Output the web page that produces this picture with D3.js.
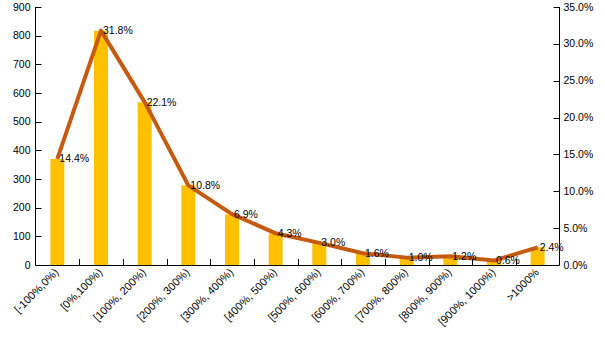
<!DOCTYPE html>
<html><head><meta charset="utf-8">
<script src="https://cdn.jsdelivr.net/npm/d3@7"></script>
<style>body{margin:0;background:#fff}svg{display:block}text{font-family:"Liberation Sans",Arial,sans-serif}</style>
</head><body><svg id="c" width="605" height="340"></svg>
<script>
const categories = ["[-100%,0%)","[0%,100%)","[100%, 200%)","[200%, 300%)","[300%, 400%)","[400%, 500%)","[500%, 600%)","[600%, 700%)","[700%, 800%)","[800%, 900%)","[900%, 1000%)",">1000%"];
const counts = [370,817,568,278,177,110,77,41,26,31,15,62];
const shares = [14.4,31.8,22.1,10.8,6.9,4.3,3.0,1.6,1.0,1.2,0.6,2.4];
const leftTicks = [0,100,200,300,400,500,600,700,800,900];
const rightTicks = [0,5,10,15,20,25,30,35];

const svg = d3.select("#c");
const L = 35.5, R = 559.5, T = 7, B = 265;
const x = d3.scaleBand().domain(categories).range([L, R]);
const yL = d3.scaleLinear().domain([0, 900]).range([B, T]);
const yR = d3.scaleLinear().domain([0, 35]).range([B, T]);

// bars
svg.append("g").selectAll("rect").data(counts).join("rect")
  .attr("x", (d,i) => x(categories[i]) + x.bandwidth()/2 - 7)
  .attr("width", 14)
  .attr("y", d => yL(d))
  .attr("height", d => B - yL(d))
  .attr("fill", "#FFC000");

// line
const line = d3.line().x((d,i) => x(categories[i]) + x.bandwidth()/2).y(d => yR(d));
svg.append("path").datum(shares).attr("d", line)
  .attr("fill","none").attr("stroke","#C55A11").attr("stroke-width",4).attr("stroke-linejoin","round");

// data labels
svg.append("g").selectAll("text").data(shares).join("text")
  .attr("x", (d,i) => x(categories[i]) + x.bandwidth()/2 + 2)
  .attr("y", d => yR(d) + 3.5)
  .attr("font-size", 10.5).attr("fill","#000")
  .text(d => d.toFixed(1) + "%");

// left axis
const gl = svg.append("g").attr("transform", `translate(${L},0)`);
gl.append("line").attr("x1",0).attr("x2",0).attr("y1",T).attr("y2",B).attr("stroke","#000");
leftTicks.forEach(t => {
  gl.append("line").attr("x1",0).attr("x2",6).attr("y1",Math.round(yL(t))+0.5).attr("y2",Math.round(yL(t))+0.5).attr("stroke","#000");
  gl.append("text").attr("x",-5).attr("y",yL(t)+3.5).attr("text-anchor","end").attr("font-size",10.5).text(t);
});
// right axis
const gr = svg.append("g").attr("transform", `translate(${R},0)`);
gr.append("line").attr("x1",0).attr("x2",0).attr("y1",T).attr("y2",B).attr("stroke","#000");
rightTicks.forEach(t => {
  gr.append("line").attr("x1",-6).attr("x2",0).attr("y1",Math.round(yR(t))+0.5).attr("y2",Math.round(yR(t))+0.5).attr("stroke","#000");
  gr.append("text").attr("x",4).attr("y",yR(t)+3.5).attr("font-size",10.5).text(t.toFixed(1)+"%");
});
// bottom axis
const gb = svg.append("g");
gb.append("line").attr("x1",L).attr("x2",R).attr("y1",B+0.5).attr("y2",B+0.5).attr("stroke","#000");
categories.forEach((c,i) => {
  const xe = Math.round(x(c) + x.bandwidth()) + 0.5;
  if (i < categories.length - 1) gb.append("line").attr("x1",xe).attr("x2",xe).attr("y1",B-6).attr("y2",B).attr("stroke","#000");
  const cx = x(c) + x.bandwidth()/2 + 2;
  gb.append("text").attr("transform", `translate(${cx},${B+8}) rotate(-45)`)
    .attr("text-anchor","end").attr("font-size",11).text(c);
});
</script></body></html>
